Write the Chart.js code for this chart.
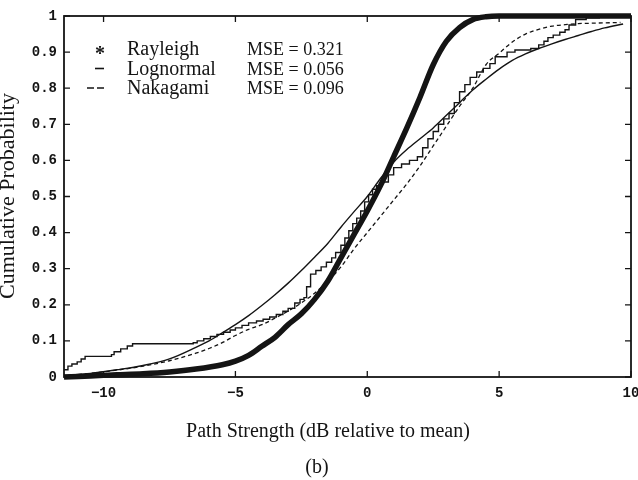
<!DOCTYPE html>
<html>
<head>
<meta charset="utf-8">
<script src="https://cdn.jsdelivr.net/npm/chart.js@4/dist/chart.umd.min.js"></script>
<style>
  html, body { margin: 0; padding: 0; background: #fff; }
  canvas { display: block; }
</style>
</head>
<body>
<canvas id="cdfChart" width="638" height="480"></canvas>
<script>
// ===== Data =====
const xTicks = [-10, -5, 0, 5, 10];
const xTickLabels = ['\u221210', '\u22125', '0', '5', '10'];
const yTicks = [0, 0.1, 0.2, 0.3, 0.4, 0.5, 0.6, 0.7, 0.8, 0.9, 1];
const yTickLabels = ['0', '0.1', '0.2', '0.3', '0.4', '0.5', '0.6', '0.7', '0.8', '0.9', '1'];

const rayleighX = [-11.5, -10.5, -9.5, -8.5, -7.5, -6.5, -5.5, -5, -4.5, -4, -3.5, -3, -2.5, -2, -1.5, -1, -0.5, 0, 0.5, 1, 1.5, 2, 2.5, 3, 3.5, 4, 4.5, 5, 6, 7, 8, 9, 10];
const rayleighY = [0.0, 0.003, 0.006, 0.009, 0.014, 0.022, 0.034, 0.044, 0.06, 0.085, 0.11, 0.145, 0.175, 0.215, 0.265, 0.33, 0.395, 0.46, 0.53, 0.61, 0.69, 0.775, 0.865, 0.93, 0.968, 0.99, 0.998, 1.0, 1.0, 1.0, 1.0, 1.0, 1.0];

const lognormalX = [-11.5, -10.5, -9.5, -8.5, -7.5, -6.5, -6, -5.5, -5, -4.5, -4, -3.5, -3, -2.5, -2, -1.5, -1, -0.5, 0, 0.5, 1, 1.5, 2, 2.5, 3, 3.5, 4, 4.5, 5, 5.5, 6, 6.5, 7, 7.5, 8, 8.5, 9, 9.7];
const lognormalY = [0.004, 0.01, 0.02, 0.032, 0.05, 0.082, 0.1, 0.122, 0.145, 0.17, 0.198, 0.228, 0.26, 0.295, 0.332, 0.37, 0.415, 0.458, 0.5, 0.55, 0.595, 0.63, 0.66, 0.69, 0.725, 0.76, 0.795, 0.825, 0.853, 0.877, 0.895, 0.91, 0.923, 0.935, 0.946, 0.957, 0.967, 0.978];

const nakagamiX = [-11.5, -10.5, -9.5, -8.5, -7.5, -6.5, -6, -5.5, -5, -4.5, -4, -3.5, -3, -2.5, -2, -1.5, -1, -0.5, 0, 0.5, 1, 1.5, 2, 2.5, 3, 3.5, 4, 4.5, 5, 5.5, 6, 6.5, 7, 7.5, 8, 8.5, 9, 9.6];
const nakagamiY = [0.003, 0.01, 0.019, 0.03, 0.045, 0.066, 0.079, 0.095, 0.115, 0.132, 0.145, 0.163, 0.183, 0.205, 0.232, 0.265, 0.305, 0.355, 0.4, 0.445, 0.49, 0.535, 0.585, 0.64, 0.695, 0.75, 0.8, 0.865, 0.897, 0.928, 0.95, 0.963, 0.972, 0.976, 0.979, 0.98, 0.981, 0.982];

const measuredX = [-11.5, -11.35, -11.2, -11.0, -10.85, -10.7, -9.7, -9.6, -9.35, -9.1, -8.9, -6.6, -6.45, -6.2, -5.95, -5.7, -5.45, -5.2, -5.0, -4.75, -4.5, -4.2, -3.95, -3.7, -3.45, -3.2, -3.0, -2.75, -2.55, -2.4, -2.3, -2.15, -1.95, -1.75, -1.55, -1.35, -1.2, -1.0, -0.85, -0.7, -0.55, -0.4, -0.25, -0.1, 0.05, 0.2, 0.35, 0.55, 0.8, 1.0, 1.3, 1.6, 1.9, 2.1, 2.3, 2.5, 2.7, 2.9, 3.1, 3.3, 3.5, 3.7, 3.9, 4.15, 4.4, 4.65, 4.85, 5.3, 5.6, 6.2, 6.5, 6.7, 6.85, 7.05, 7.3, 7.5, 7.65, 7.9, 8.3, 8.8, 9.6];
const measuredY = [0.02, 0.03, 0.036, 0.042, 0.05, 0.057, 0.062, 0.07, 0.078, 0.086, 0.092, 0.095, 0.1, 0.106, 0.112, 0.118, 0.124, 0.13, 0.136, 0.143, 0.15, 0.155, 0.16, 0.166, 0.173, 0.182, 0.19, 0.205, 0.215, 0.22, 0.25, 0.285, 0.295, 0.305, 0.318, 0.33, 0.345, 0.365, 0.385, 0.405, 0.425, 0.44, 0.46, 0.485, 0.505, 0.52, 0.53, 0.54, 0.56, 0.58, 0.59, 0.6, 0.61, 0.635, 0.66, 0.68, 0.7, 0.715, 0.73, 0.76, 0.79, 0.81, 0.83, 0.845, 0.855, 0.868, 0.887, 0.9, 0.906, 0.91, 0.92, 0.93, 0.94, 0.947, 0.955, 0.962, 0.975, 0.99, 0.995, 1.0, 1.0];

const legendRows = [
  { name: 'Rayleigh', mse: 'MSE = 0.321', mark: 'star' },
  { name: 'Lognormal', mse: 'MSE = 0.056', mark: 'line' },
  { name: 'Nakagami', mse: 'MSE = 0.096', mark: 'dash' }
];

const toPoints = (xs, ys) => xs.map((x, i) => ({ x: x, y: ys[i] }));

const INK = '#141414';
const SERIF = '"Liberation Serif", "DejaVu Serif", serif';

// ===== Frame, inward ticks, legend and titles =====
const paperPlugin = {
  id: 'paper',
  afterDraw(chart) {
    const { ctx, chartArea: a, scales } = chart;
    ctx.save();
    ctx.strokeStyle = INK;
    ctx.lineWidth = 1.8;
    ctx.strokeRect(a.left, a.top, a.right - a.left, a.bottom - a.top);

    ctx.lineWidth = 1.3;
    ctx.beginPath();
    yTicks.forEach(v => {
      const py = scales.y.getPixelForValue(v);
      ctx.moveTo(a.left, py); ctx.lineTo(a.left + 6, py);
      ctx.moveTo(a.right, py); ctx.lineTo(a.right - 6, py);
    });
    xTicks.forEach(v => {
      const px = scales.x.getPixelForValue(v);
      ctx.moveTo(px, a.bottom); ctx.lineTo(px, a.bottom - 6);
      ctx.moveTo(px, a.top); ctx.lineTo(px, a.top + 6);
    });
    ctx.stroke();

    // legend (drawn as in the original figure)
    ctx.fillStyle = INK;
    ctx.textBaseline = 'alphabetic';
    legendRows.forEach((row, i) => {
      const base = a.top + 39 + i * 19.5;
      const mid = base - 6;
      if (row.mark === 'star') {
        ctx.font = 'bold 20px ' + SERIF;
        ctx.textAlign = 'center';
        ctx.fillText('*', a.left + 36, base + 5);
      } else if (row.mark === 'line') {
        ctx.beginPath();
        ctx.lineWidth = 1.6;
        ctx.moveTo(a.left + 31, mid); ctx.lineTo(a.left + 40, mid);
        ctx.stroke();
      } else {
        ctx.beginPath();
        ctx.lineWidth = 1.6;
        ctx.moveTo(a.left + 23, mid); ctx.lineTo(a.left + 30, mid);
        ctx.moveTo(a.left + 33, mid); ctx.lineTo(a.left + 40, mid);
        ctx.stroke();
      }
      ctx.textAlign = 'left';
      ctx.font = '20px ' + SERIF;
      ctx.fillText(row.name, a.left + 63, base);
      ctx.font = '18px ' + SERIF;
      ctx.fillText(row.mse, a.left + 183, base);
    });

    // axis titles and caption
    ctx.textAlign = 'center';
    ctx.textBaseline = 'middle';
    ctx.font = '20px ' + SERIF;
    ctx.fillText('Path Strength (dB relative to mean)', 328, 432);
    ctx.fillText('(b)', 317, 468);

    // y title sits partly off the left edge, as in the scan
    ctx.translate(14, 196);
    ctx.rotate(-Math.PI / 2);
    ctx.textBaseline = 'alphabetic';
    ctx.font = '22px ' + SERIF;
    ctx.fillText('Cumulative Probability', 0, 0);
    ctx.restore();
  }
};

// ===== Chart.js - CDF of path strength =====
const ctxCdf = document.getElementById('cdfChart').getContext('2d');
new Chart(ctxCdf, {
  type: 'line',
  data: {
    datasets: [
      {
        label: 'Measured',
        data: toPoints(measuredX, measuredY),
        borderColor: INK,
        borderWidth: 1.4,
        stepped: true,
        pointRadius: 0
      },
      {
        label: 'Lognormal',
        data: toPoints(lognormalX, lognormalY),
        borderColor: INK,
        borderWidth: 1.4,
        cubicInterpolationMode: 'monotone',
        pointRadius: 0
      },
      {
        label: 'Nakagami',
        data: toPoints(nakagamiX, nakagamiY),
        borderColor: INK,
        borderWidth: 1.3,
        borderDash: [4, 3],
        cubicInterpolationMode: 'monotone',
        pointRadius: 0
      },
      {
        label: 'Rayleigh',
        data: toPoints(rayleighX, rayleighY),
        borderColor: INK,
        borderWidth: 5.5,
        cubicInterpolationMode: 'monotone',
        pointRadius: 0,
        clip: 4
      }
    ]
  },
  options: {
    responsive: false,
    animation: false,
    layout: { padding: { top: 16, right: 7, left: 0, bottom: 0 } },
    plugins: {
      legend: { display: false },
      tooltip: { enabled: false }
    },
    scales: {
      x: {
        type: 'linear',
        min: -11.5,
        max: 10,
        afterBuildTicks: scale => { scale.ticks = xTicks.map(v => ({ value: v })); },
        afterFit: scale => {
          scale.height = 103;
          scale.paddingLeft = 0;
          scale.paddingRight = 0;
        },
        grid: { display: false, drawTicks: false },
        border: { display: false },
        ticks: {
          font: { family: '"Liberation Mono", monospace', weight: 'bold', size: 14 },
          color: INK,
          padding: 8,
          maxRotation: 0,
          autoSkip: false,
          callback: (v) => xTickLabels[xTicks.indexOf(v)]
        }
      },
      y: {
        min: 0,
        max: 1,
        afterBuildTicks: scale => { scale.ticks = yTicks.map(v => ({ value: v })); },
        afterFit: scale => {
          scale.width = 64;
          scale.paddingTop = 0;
          scale.paddingBottom = 0;
        },
        grid: { display: false, drawTicks: false },
        border: { display: false },
        ticks: {
          font: { family: '"Liberation Mono", monospace', weight: 'bold', size: 14 },
          color: INK,
          padding: 7,
          autoSkip: false,
          callback: (v) => yTickLabels[yTicks.indexOf(v)]
        }
      }
    }
  },
  plugins: [paperPlugin]
});
</script>
</body>
</html>
